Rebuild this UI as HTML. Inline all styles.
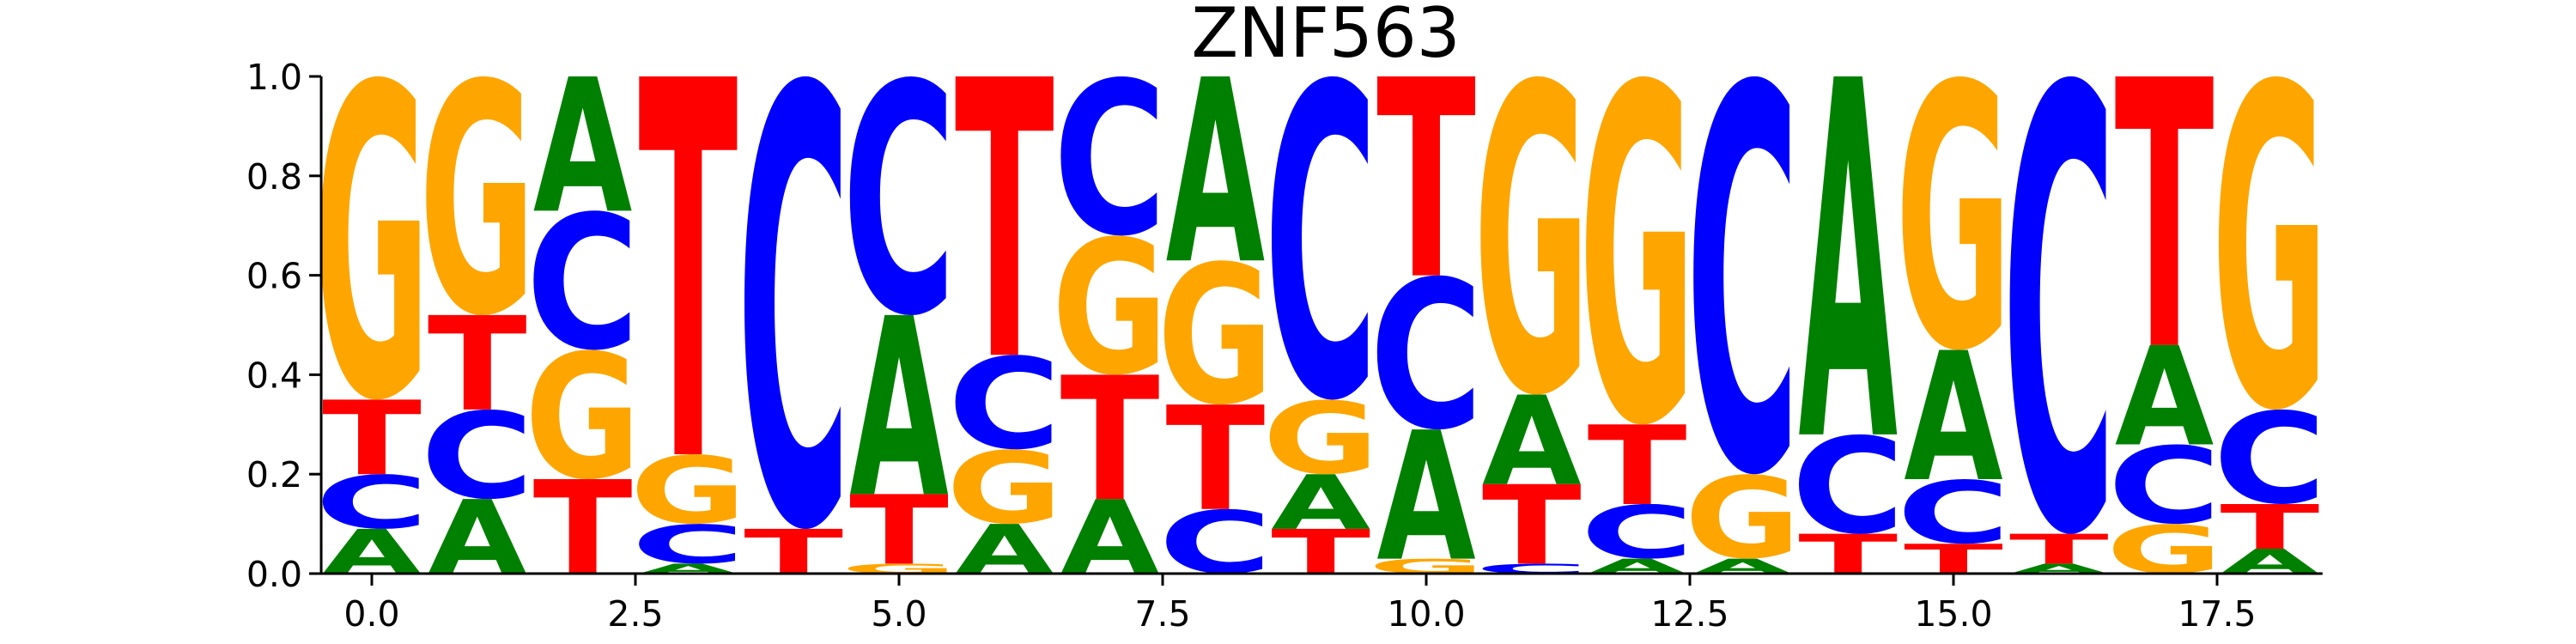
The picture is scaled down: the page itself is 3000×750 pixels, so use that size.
<!DOCTYPE html>
<html><head><meta charset="utf-8"><style>
html,body{margin:0;padding:0;background:#fff;}
svg{display:block;}
text{font-family:"DejaVu Sans","Liberation Sans",sans-serif;}
</style></head><body>
<svg id="chart" width="3000" height="750" viewBox="0 0 3000 750" xmlns="http://www.w3.org/2000/svg">
<rect width="3000" height="750" fill="#fff"/>
<text x="1544" y="66" font-size="80" text-anchor="middle" fill="#000">ZNF563</text>
<g id="letters"></g>
<g id="axes"></g>
</svg>
<script>
// Each position: letters bottom-to-top with heights (probabilities)
const positions = [0,1,2,3,4,5,6,7,8,9,10,11,12,13,14,15,16,17,18];
const stackLetters = [
 ["A","C","T","G"],["A","C","T","G"],["T","G","C","A"],["A","C","G","T"],["T","C"],
 ["G","T","A","C"],["A","G","C","T"],["A","T","G","C"],["C","T","G","A"],["T","A","G","C"],
 ["G","A","C","T"],["C","T","A","G"],["A","C","T","G"],["A","G","C"],["T","C","A"],
 ["T","C","A","G"],["A","T","C"],["G","C","A","T"],["A","T","C","G"]
];
const stackHeights = [
 [0.09,0.11,0.15,0.65],[0.15,0.18,0.19,0.48],[0.19,0.26,0.28,0.27],[0.02,0.08,0.14,0.76],[0.09,0.91],
 [0.02,0.14,0.36,0.48],[0.10,0.15,0.19,0.56],[0.15,0.25,0.28,0.32],[0.13,0.21,0.29,0.37],[0.09,0.11,0.15,0.65],
 [0.03,0.26,0.31,0.40],[0.02,0.16,0.18,0.64],[0.03,0.11,0.16,0.70],[0.03,0.17,0.80],[0.08,0.20,0.72],
 [0.06,0.13,0.26,0.55],[0.02,0.06,0.92],[0.10,0.16,0.20,0.54],[0.05,0.09,0.19,0.67]
];
const xTicks = [0,2.5,5,7.5,10,12.5,15,17.5];
const xTickLabels = ["0.0","2.5","5.0","7.5","10.0","12.5","15.0","17.5"];
const yTicks = [0,0.2,0.4,0.6,0.8,1.0];
const yTickLabels = ["0.0","0.2","0.4","0.6","0.8","1.0"];

const NS="http://www.w3.org/2000/svg";
const X0=433, XS=122.8, Y0=668, YS=579;
const xPos=v=>X0+v*XS, yPos=v=>Y0-v*YS;
const colors={A:"#008000",C:"#0000ff",G:"#ffa500",T:"#ff0000"};
const inkW={A:0.774,C:0.64,G:0.70,T:0.68};
const inkH={A:0.729,C:0.756,G:0.756,T:0.729};
const inkB={A:0,C:-0.014,G:-0.014,T:0};
const FS=100, LW=0.94*XS;
const lg=document.getElementById('letters');
positions.forEach((p,i)=>{
  let cum=0;
  stackLetters[i].forEach((L,j)=>{
    const h=stackHeights[i][j];
    const ybot=yPos(cum), hpx=h*YS;
    cum+=h;
    if(hpx<0.5) return;
    const sx=LW/(inkW[L]*FS), sy=hpx/(inkH[L]*FS);
    const t=document.createElementNS(NS,'text');
    
    
    t.setAttribute('font-size',FS);
    t.setAttribute('font-weight','bold');
    t.setAttribute('text-anchor','middle');
    t.setAttribute('fill',colors[L]);
    t.setAttribute('x',0);
    t.setAttribute('y',inkB[L]*FS);
    t.setAttribute('transform',`translate(${xPos(p)},${ybot}) scale(${sx},${sy})`);
    t.textContent=L;
    lg.appendChild(t);
  });
});
const ax=document.getElementById('axes');
function line(x1,y1,x2,y2,name){
  const l=document.createElementNS(NS,'line');
  
  
  l.setAttribute('x1',x1);l.setAttribute('y1',y1);l.setAttribute('x2',x2);l.setAttribute('y2',y2);
  l.setAttribute('stroke','#000');l.setAttribute('stroke-width','3');
  ax.appendChild(l);
}
line(xPos(-0.48),Y0,xPos(18.5),Y0,'x-axis-line');
line(xPos(-0.48),yPos(1),xPos(-0.48),Y0+1.5,'y-axis-line');
xTicks.forEach((v,i)=>{
  line(xPos(v),Y0,xPos(v),Y0+14,'x-tick');
  const t=document.createElementNS(NS,'text');
  
  
  t.setAttribute('x',xPos(v));t.setAttribute('y',Y0+61);
  t.setAttribute('font-size','41');t.setAttribute('text-anchor','middle');
  t.textContent=xTickLabels[i];ax.appendChild(t);
});
yTicks.forEach((v,i)=>{
  const xa=xPos(-0.48);
  line(xa-14,yPos(v),xa,yPos(v),'y-tick');
  const t=document.createElementNS(NS,'text');
  
  
  t.setAttribute('x',xa-22);t.setAttribute('y',yPos(v)+15);
  t.setAttribute('font-size','41');t.setAttribute('text-anchor','end');
  t.textContent=yTickLabels[i];ax.appendChild(t);
});
</script>
</body></html>
